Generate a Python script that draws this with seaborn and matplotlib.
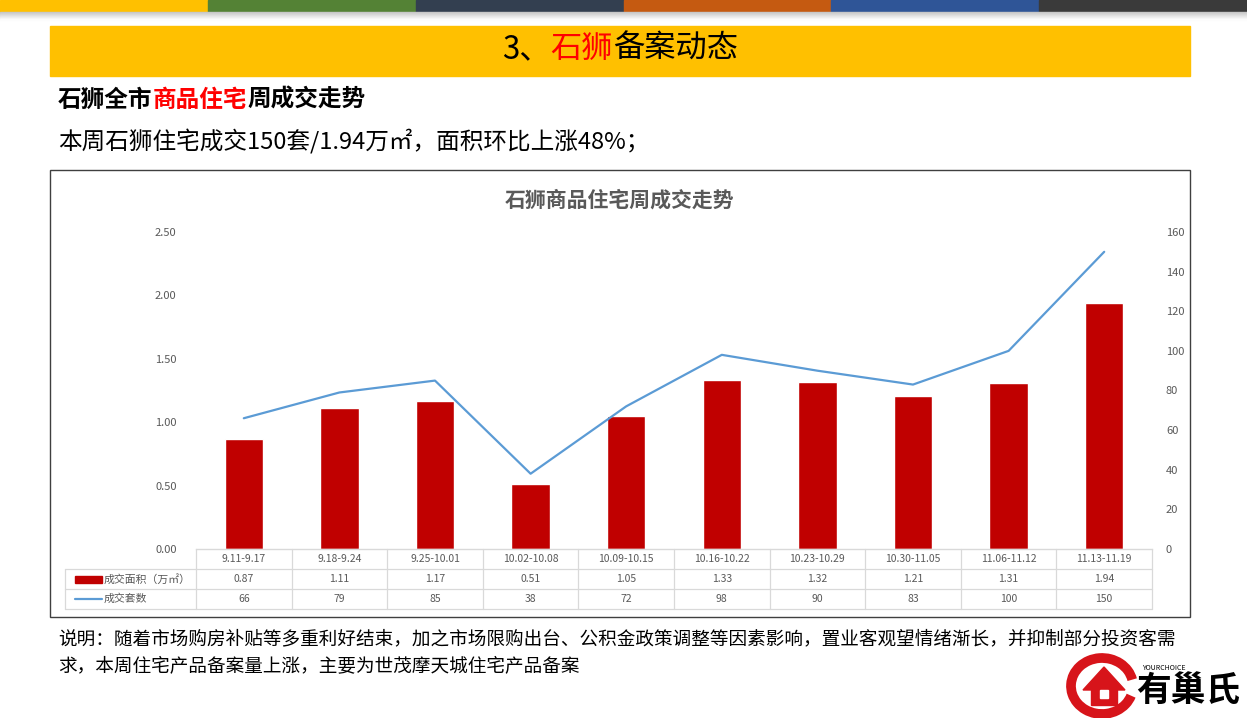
import numpy as np
import pandas as pd
import matplotlib
matplotlib.use("Agg")
import matplotlib.pyplot as plt
import matplotlib.patches as mpatches
from matplotlib.transforms import blended_transform_factory
import seaborn as sns

# ---------------- data ----------------
weeks = ["9.11-9.17", "9.18-9.24", "9.25-10.01", "10.02-10.08", "10.09-10.15",
         "10.16-10.22", "10.23-10.29", "10.30-11.05", "11.06-11.12", "11.13-11.19"]
area = [0.87, 1.11, 1.17, 0.51, 1.05, 1.33, 1.32, 1.21, 1.31, 1.94]
units = [66, 79, 85, 38, 72, 98, 90, 83, 100, 150]
left_ticks = [0.0, 0.5, 1.0, 1.5, 2.0, 2.5]
right_ticks = [0, 20, 40, 60, 80, 100, 120, 140, 160]
area_label = "成交面积（万㎡）"
units_label = "成交套数"

BAR = "#C00000"
LINE = "#5B9BD5"
GRID = "#D9D9D9"
TXT = "#595959"

sns.set_theme(style="white")
plt.rcParams["font.family"] = ["Noto Sans CJK SC", "DejaVu Sans"]
plt.rcParams["axes.unicode_minus"] = False

W, H = 1247, 718
fig = plt.figure(figsize=(W / 100, H / 100), dpi=100)
fig.patch.set_facecolor("white")


def px(x, y):
    return x / W, 1 - y / H


# ---------------- top stripes ----------------
stripe_cols = ["#FFC000", "#548235", "#333F50", "#C55A11", "#2F5597", "#3A3A3A"]
sw = W / 6
for i, c in enumerate(stripe_cols):
    fig.patches.append(mpatches.Rectangle(px(i * sw, 12), sw / W, 12 / H,
                                          transform=fig.transFigure, color=c, zorder=1))
for k in range(8):
    g = 0.78 + k * 0.03
    fig.patches.append(mpatches.Rectangle(px(0, 12 + k + 1), 1, 1 / H,
                                          transform=fig.transFigure,
                                          color=(g, g, g), zorder=1))

# ---------------- title banner ----------------
fig.patches.append(mpatches.Rectangle(px(50, 76), 1140 / W, 50 / H,
                                      transform=fig.transFigure, color="#FFC000", zorder=1))

renderer = fig.canvas.get_renderer()


def seg_text(x, y, segments, **kw):
    """Draw text segments one after another starting at pixel x (left), y (center)."""
    cur = x
    for s, col in segments:
        t = fig.text(*px(cur, y), s, color=col, ha="left", va="center", **kw)
        bb = t.get_window_extent(renderer=renderer)
        cur += bb.width
    return cur


def seg_text_center(xc, y, segments, **kw):
    total = 0
    for s, col in segments:
        t = fig.text(0, 0, s, **kw)
        total += t.get_window_extent(renderer=renderer).width
        t.remove()
    seg_text(xc - total / 2, y, segments, **kw)


seg_text_center(620, 49, [("3、", "black"), ("石狮", "#FF0000"), ("备案动态", "black")],
                fontsize=22.5)
seg_text(58, 100, [("石狮全市", "black"), ("商品住宅", "#FF0000"), ("周成交走势", "black")],
         fontsize=17, fontweight="bold")
fig.text(*px(58, 142), "本周石狮住宅成交150套/1.94万㎡，面积环比上涨48%；",
         ha="left", va="center", fontsize=17, color="black")

# ---------------- chart frame ----------------
fig.patches.append(mpatches.Rectangle(px(50, 617), 1140 / W, 447 / H,
                                      transform=fig.transFigure, fill=False,
                                      edgecolor="#3F3F3F", linewidth=1, zorder=2))
fig.text(*px(620, 200), "石狮商品住宅周成交走势", ha="center", va="center",
         fontsize=15, fontweight="bold", color=TXT)

# ---------------- main axes ----------------
ax_l, ax_r, ax_t, ax_b = 196, 1152, 232, 549
ax = fig.add_axes([ax_l / W, 1 - ax_b / H, (ax_r - ax_l) / W, (ax_b - ax_t) / H])
df = pd.DataFrame({"week": weeks, "area": area, "units": units})
sns.barplot(data=df, x="week", y="area", color=BAR, saturation=1, width=0.4, ax=ax)
ax.set_xlim(-0.5, len(weeks) - 0.5)
ax.set_ylim(0, 2.5)
ax.set_yticks(left_ticks)
ax.set_yticklabels([f"{v:.2f}" for v in left_ticks], fontsize=8, color=TXT)
ax.set_xticks([])
ax.set_xlabel("")
ax.set_ylabel("")
ax.tick_params(axis="y", length=0, pad=14)
for s in ["left", "right", "top"]:
    ax.spines[s].set_visible(False)
ax.spines["bottom"].set_color(GRID)
ax.spines["bottom"].set_linewidth(1)
ax.set_facecolor("none")

ax2 = ax.twinx()
sns.lineplot(x=np.arange(len(units)), y=units, color=LINE, linewidth=1.6, ax=ax2)
ax2.set_ylim(0, 160)
ax2.set_yticks(right_ticks)
ax2.set_yticklabels([str(v) for v in right_ticks], fontsize=8, color=TXT)
ax2.tick_params(axis="y", length=0, pad=10)
for s in ["left", "right", "top", "bottom"]:
    ax2.spines[s].set_visible(False)
ax2.set_xlim(-0.5, len(weeks) - 0.5)

# ---------------- data table ----------------
axh = ax_b - ax_t
row_h = 20 / axh
bt = blended_transform_factory(ax.transData, ax.transAxes)
n = len(weeks)
for i in range(n):
    ax.text(i, -0.5 * row_h, weeks[i], transform=bt, ha="center", va="center",
            fontsize=7.5, color=TXT)
    ax.text(i, -1.5 * row_h, f"{area[i]:.2f}", transform=bt, ha="center", va="center",
            fontsize=7.5, color=TXT)
    ax.text(i, -2.5 * row_h, f"{units[i]}", transform=bt, ha="center", va="center",
            fontsize=7.5, color=TXT)
for i in range(n + 1):
    ax.plot([i - 0.5, i - 0.5], [0, -3 * row_h], transform=bt, color=GRID,
            linewidth=0.9, clip_on=False)
left_frac = (65 - ax_l) / (ax_r - ax_l)
for k in [1, 2, 3]:
    ax.plot([left_frac, 1], [-k * row_h, -k * row_h], transform=ax.transAxes,
            color=GRID, linewidth=0.9, clip_on=False)
ax.plot([left_frac, left_frac], [-row_h, -3 * row_h], transform=ax.transAxes,
        color=GRID, linewidth=0.9, clip_on=False)
# legend keys
key_l = (75 - ax_l) / (ax_r - ax_l)
key_w = 27 / (ax_r - ax_l)
ax.add_patch(mpatches.Rectangle((key_l, -1.5 * row_h - 3.5 / axh), key_w, 7 / axh,
                                transform=ax.transAxes, color=BAR, clip_on=False))
ax.plot([key_l, key_l + key_w], [-2.5 * row_h] * 2, transform=ax.transAxes,
        color=LINE, linewidth=1.6, clip_on=False)
ax.text(key_l + key_w + 2 / (ax_r - ax_l), -1.5 * row_h, area_label,
        transform=ax.transAxes, ha="left", va="center", fontsize=7.8, color=TXT)
ax.text(key_l + key_w + 2 / (ax_r - ax_l), -2.5 * row_h, units_label,
        transform=ax.transAxes, ha="left", va="center", fontsize=7.8, color=TXT)

# ---------------- notes ----------------
fig.text(*px(58, 639), "说明：随着市场购房补贴等多重利好结束，加之市场限购出台、公积金政策调整等因素影响，置业客观望情绪渐长，并抑制部分投资客需",
         ha="left", va="center", fontsize=13.4, color="black")
fig.text(*px(58, 667), "求，本周住宅产品备案量上涨，主要为世茂摩天城住宅产品备案",
         ha="left", va="center", fontsize=13.4, color="black")

# ---------------- logo ----------------
fig.patches.append(mpatches.Arc(px(1102, 686), 62 / W, 56 / H, theta1=20, theta2=330,
                                transform=fig.transFigure,
                                edgecolor="#D7141A", linewidth=7, zorder=3))
fig.patches.append(mpatches.Polygon([px(1083, 690), px(1104, 667), px(1125, 690)],
                                    closed=True, transform=fig.transFigure,
                                    color="#D7141A", zorder=3))
fig.patches.append(mpatches.Rectangle(px(1091, 705), 26 / W, 17 / H,
                                      transform=fig.transFigure, color="#D7141A", zorder=3))
fig.patches.append(mpatches.Rectangle(px(1100, 698), 8 / W, 8 / H,
                                      transform=fig.transFigure, color="white", zorder=4))
fig.text(*px(1142, 668), "YOURCHOICE", ha="left", va="center", fontsize=5,
         style="italic", color="black")
fig.text(*px(1188, 690), "有巢氏", ha="center", va="center", fontsize=25,
         fontweight="bold", color="black")

fig.savefig("out.png", dpi=100)
